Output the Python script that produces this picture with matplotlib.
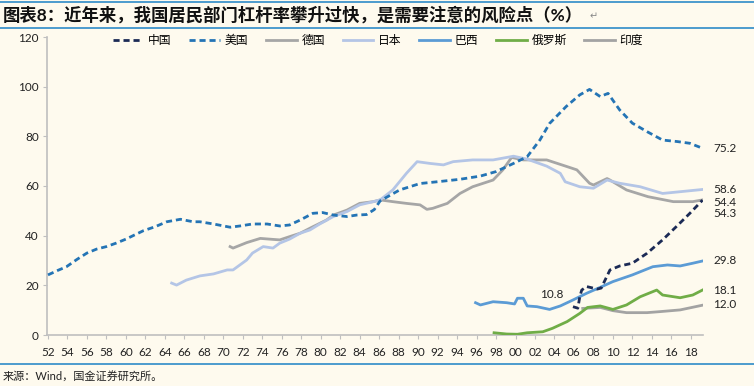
import matplotlib
matplotlib.use("Agg")
import matplotlib.pyplot as plt
import matplotlib.lines as mlines

plt.rcParams['font.family'] = ['Lato', 'Noto Sans CJK SC', 'DejaVu Sans']

# ---- data (household debt / GDP, %) ----
us_x = [1952.0, 1953.0, 1953.9, 1955.0, 1956.0, 1957.0, 1958.0, 1959.0, 1960.0,
        1961.0, 1961.8, 1963.0, 1964.2, 1965.6, 1966.9, 1967.6, 1969.0, 1970.7,
        1971.7, 1973.0, 1974.5, 1975.8, 1976.8, 1977.9, 1979.2, 1980.2, 1981.3,
        1982.7, 1983.7, 1984.7, 1985.5, 1986.1, 1988.1, 1990.2, 1992.2, 1994.3,
        1996.4, 1998.0, 1999.8, 2001.2, 2002.5, 2003.5, 2005.2, 2006.6, 2007.6,
        2008.7, 2009.5, 2010.7, 2012.0, 2013.5, 2015.1, 2016.6, 2017.9, 2019.2]
us_y = [24.2, 26.0, 27.5, 30.5, 33.0, 34.6, 35.6, 37.0, 38.6,
        40.5, 42.0, 43.6, 45.6, 46.6, 45.6, 45.6, 44.7, 43.4,
        43.9, 44.7, 44.7, 43.9, 44.3, 46.3, 49.0, 49.3, 48.3,
        47.7, 48.3, 48.5, 50.5, 54.0, 58.4, 61.0, 61.8, 62.7,
        64.0, 65.8, 69.1, 71.8, 78.5, 85.2, 92.0, 96.7, 98.9,
        96.0, 97.3, 90.6, 85.3, 81.9, 78.5, 77.9, 77.2, 75.2]

jp_x = [1964.7, 1965.2, 1966.2, 1967.6, 1969.0, 1970.4, 1971.0, 1971.7, 1972.4,
        1973.0, 1974.1, 1975.1, 1975.8, 1976.8, 1977.9, 1978.9, 1979.9, 1981.3,
        1982.7, 1984.0, 1985.4, 1986.1, 1987.4, 1988.8, 1989.9, 1991.2, 1992.6,
        1993.6, 1995.6, 1997.7, 1999.8, 2001.2, 2003.2, 2004.6, 2005.1, 2006.6,
        2008.0, 2009.4, 2010.7, 2012.8, 2015.1, 2016.9, 2019.2]
jp_y = [20.9, 20.1, 22.1, 23.8, 24.6, 26.2, 26.2, 28.2, 30.2,
        33.0, 35.6, 35.0, 37.0, 38.6, 41.0, 42.3, 44.7, 47.7,
        49.7, 52.4, 53.7, 54.4, 58.4, 65.1, 69.8, 69.1, 68.5,
        69.8, 70.5, 70.5, 72.0, 70.8, 68.0, 65.1, 61.7, 59.7,
        59.1, 62.4, 61.1, 59.7, 57.0, 57.7, 58.6]

de_x = [1970.7, 1971.0, 1972.4, 1973.8, 1975.1, 1975.8, 1976.8, 1977.9, 1979.2,
        1980.6, 1981.3, 1982.7, 1984.0, 1985.4, 1986.1, 1987.4, 1988.8, 1990.2,
        1990.9, 1991.5, 1993.0, 1994.3, 1995.6, 1997.7, 1998.7, 1999.6, 2000.8,
        2003.2, 2005.3, 2006.3, 2007.6, 2008.0, 2009.4, 2009.7, 2011.4, 2013.6,
        2016.2, 2018.2, 2019.2]
de_y = [35.6, 35.0, 37.2, 38.9, 38.5, 38.3, 39.6, 41.0, 43.6,
        46.3, 48.3, 50.3, 53.0, 53.7, 54.4, 53.7, 53.0, 52.4,
        50.6, 51.0, 53.0, 57.0, 59.7, 62.4, 66.5, 71.5, 70.5,
        70.5, 67.8, 66.5, 61.1, 60.4, 63.0, 62.4, 58.4, 55.7,
        53.7, 53.7, 54.4]

cn_x = [2005.9, 2006.4, 2006.6, 2006.8, 2007.3, 2008.4, 2008.8, 2009.7, 2010.7,
        2012.0, 2013.5, 2015.1, 2016.5, 2017.9, 2019.2]
cn_y = [11.4, 10.8, 15.4, 18.1, 19.5, 18.5, 18.9, 26.2, 27.8,
        28.9, 32.9, 38.3, 43.6, 49.0, 54.3]

br_x = [1995.9, 1996.4, 1997.7, 1999.1, 1999.9, 2000.2, 2000.8, 2001.2, 2002.2,
        2003.5, 2004.6, 2005.9, 2007.3, 2008.7, 2010.0, 2012.0, 2014.1, 2015.6,
        2016.9, 2018.2, 2019.2]
br_y = [13.0, 12.1, 13.4, 13.0, 12.5, 14.8, 14.8, 11.7, 11.4,
        10.3, 11.7, 14.1, 16.8, 19.2, 21.5, 24.2, 27.5, 28.2,
        27.8, 28.9, 29.8]

ru_x = [1997.8, 1999.1, 2000.2, 2001.2, 2002.8, 2003.8, 2005.3, 2006.6, 2007.4,
        2008.7, 2010.0, 2011.4, 2012.8, 2014.5, 2015.1, 2016.9, 2018.2, 2019.2]
ru_y = [0.9, 0.4, 0.3, 0.9, 1.3, 2.7, 5.4, 8.7, 11.1,
        11.7, 10.3, 12.1, 15.4, 18.1, 16.1, 15.0, 16.1, 18.1]

in_x = [2006.9, 2008.7, 2010.0, 2011.4, 2013.5, 2014.8, 2016.9, 2019.2]
in_y = [10.7, 11.1, 9.8, 9.0, 9.0, 9.4, 10.1, 12.0]

names = ['中国', '美国', '德国', '日本', '巴西', '俄罗斯', '印度']
tick_years = list(range(1952, 2019, 2))
tick_labels = ['%02d' % (y % 100) for y in tick_years]

# end labels: text, y position (value units)
end_labels = [('75.2', 75.3), ('58.6', 58.4), ('54.4', 53.4), ('54.3', 49.0),
              ('29.8', 29.8), ('18.1', 18.1), ('12.0', 12.1)]

# ---- figure ----
bg = '#FEFAEE'
fig = plt.figure(figsize=(7.54, 3.86), dpi=100, facecolor=bg)
ax = fig.add_axes([47 / 754, 1 - 335 / 386, (703 - 47) / 754, (335 - 37) / 386])
ax.set_facecolor(bg)

c_cn, c_us, c_de, c_jp = '#1B2A55', '#2474B5', '#A6A6A6', '#B4C5E6'
c_br, c_ru, c_in = '#5B9BD5', '#70AD47', '#A3A3A3'
lw = 2.0

ax.plot(de_x, de_y, color=c_de, lw=lw, zorder=2)
ax.plot(jp_x, jp_y, color=c_jp, lw=lw, zorder=3)
ax.plot(in_x, in_y, color=c_in, lw=lw, zorder=2)
ax.plot(ru_x, ru_y, color=c_ru, lw=lw, zorder=3)
ax.plot(br_x, br_y, color=c_br, lw=lw, zorder=3)
ax.plot(us_x, us_y, color=c_us, lw=lw, dashes=(2.2, 1.4), zorder=4)
ax.plot(cn_x, cn_y, color=c_cn, lw=lw, dashes=(2.2, 1.4), zorder=5)

ax.set_xlim(1951.9, 2019.25)
ax.set_ylim(0, 120)
ax.set_yticks(range(0, 121, 20))
ax.set_xticks(tick_years)
ax.set_xticklabels(tick_labels)
ax.tick_params(axis='both', length=3, color='#BFBFBF', labelsize=8.5,
               labelcolor='#222222', direction='out', pad=3)
ax.tick_params(axis='x', pad=6)
for s in ['top', 'right']:
    ax.spines[s].set_visible(False)
for s in ['left', 'bottom']:
    ax.spines[s].set_color('#BFBFBF')
    ax.spines[s].set_linewidth(1.2)

for txt, yv in end_labels:
    ax.text(2020.3, yv, txt, fontsize=8.5, va='center', ha='left',
            color='#222222', clip_on=False)
ax.text(2003.7, 16.5, '10.8', fontsize=8.5, va='center', ha='center',
        color='#222222')

# legend
handles = [
    mlines.Line2D([], [], color=c_cn, lw=lw, dashes=(2.2, 1.4)),
    mlines.Line2D([], [], color=c_us, lw=lw, dashes=(2.2, 1.4)),
    mlines.Line2D([], [], color=c_de, lw=lw),
    mlines.Line2D([], [], color=c_jp, lw=lw),
    mlines.Line2D([], [], color=c_br, lw=lw),
    mlines.Line2D([], [], color=c_ru, lw=lw),
    mlines.Line2D([], [], color=c_in, lw=lw),
]
fig.legend(handles, names, loc='center', bbox_to_anchor=(378 / 754, 1 - 40 / 386),
           ncol=7, frameon=False, fontsize=8.5, handlelength=2.6,
           columnspacing=1.5, handletextpad=0.4)

# title bar and footer
line_c = '#2E8BC8'
fig.add_artist(mlines.Line2D([0, 1], [1 - 2 / 386, 1 - 2 / 386], color=line_c, lw=1.2))
fig.add_artist(mlines.Line2D([0, 1], [1 - 28 / 386, 1 - 28 / 386], color=line_c, lw=1.2))
fig.text(3 / 754, 1 - 15 / 386, '图表8：近年来，我国居民部门杠杆率攀升过快，是需要注意的风险点（%）',
         fontsize=12.5, fontweight='bold', va='center', ha='left', color='#111111')
fig.text(590 / 754, 1 - 16 / 386, '↵', fontsize=7, va='center', color='#888888',
         family='DejaVu Sans')

fig.add_artist(mlines.Line2D([0, 1], [1 - 364 / 386, 1 - 364 / 386], color=line_c, lw=1.2))
fig.text(3 / 754, 1 - 376 / 386, '来源：Wind，国金证券研究所。', fontsize=8,
         va='center', ha='left', color='#222222')

fig.savefig('out.png', dpi=100, facecolor=bg)
